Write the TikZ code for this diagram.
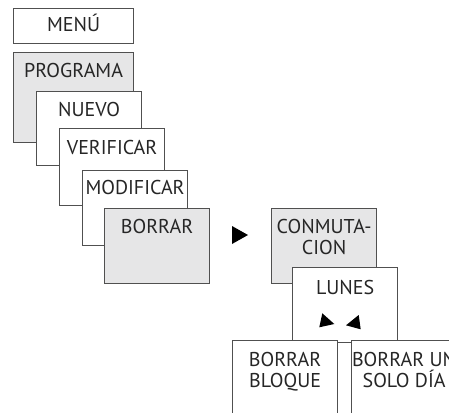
\documentclass[tikz,border=0pt]{standalone}
\usepackage{fontspec}
\setmainfont{PT Sans}
\usepackage{tikz}
\usetikzlibrary{positioning}

\definecolor{boxline}{HTML}{505050}
\definecolor{boxgray}{HTML}{E6E6E7}

\tikzset{
	wbox/.style={rectangle, draw=boxline, line width=1.2pt, fill=white, anchor=north west,
		minimum width=105pt, minimum height=75pt, inner sep=0pt},
	gbox/.style={wbox, fill=boxgray},
	txt/.style={anchor=base, inner sep=0pt, align=center, text=black!85,
		font=\fontsize{20}{21}\selectfont}
}

\begin{document}
\begin{tikzpicture}[x=1pt, y=-1pt]
		\useasboundingbox (0,0) rectangle (449,412);
		\clip (0,0) rectangle (449,412);
%		\draw[help lines] (0,0) grid (449,412);
		\path (13,8) node(menu_box) [wbox, minimum width=120pt, minimum height=35pt] {};
		\path (13,52) node(programa_box) [gbox, minimum width=120pt, minimum height=90pt] {};
		\path (36,91) node(nuevo_box) [wbox, minimum height=74pt] {};
		\path (59,128) node(verificar_box) [wbox, minimum height=77pt] {};
		\path (82,170) node(modificar_box) [wbox] {};
		\path (104,208) node(borrar_box) [gbox] {};
		\path (271,208) node(conmut_box) [gbox] {};
		\path (292,267) node(lunes_box) [wbox] {};
		\path (232,340) node(bloque_box) [wbox, minimum height=90pt] {};
		\path (351,340) node(solo_box) [wbox, minimum height=90pt] {};

		% two-line texts sit on the baseline of their last line
		\path (menu_box.north) +(0,24) node(menu) [txt] {MENÚ};
		\path (programa_box.north) +(0,25) node(programa) [txt] {PROGRAMA};
		\path (nuevo_box.north) +(0,25) node(nuevo) [txt] {NUEVO};
		\path (verificar_box.north) +(0,26) node(verificar) [txt] {VERIFICAR};
		\path (modificar_box.north) +(0,24) node(modificar) [txt] {MODIFICAR};
		\path (borrar_box.north) +(0,25) node(borrar) [txt] {BORRAR};
		\path (conmut_box.north) +(0,46) node(conmut) [txt] {CONMUTA-\\CION};
		\path (lunes_box.north) +(0,27) node(lunes) [txt] {LUNES};
		\path (bloque_box.north) +(0,47) node(bloque) [txt] {BORRAR\\BLOQUE};
		\path (solo_box.north) +(0,47) node(solo) [txt] {BORRAR UN\\SOLO DÍA};

		\fill (232,226) -- (232,244) -- (248,235) -- cycle;
		\fill (322.3,313.3) -- (334.3,324) -- (319.3,327.3) -- cycle;
		\fill (358.7,315) -- (346,325.3) -- (360.7,329.3) -- cycle;
	\end{tikzpicture}
\end{document}
